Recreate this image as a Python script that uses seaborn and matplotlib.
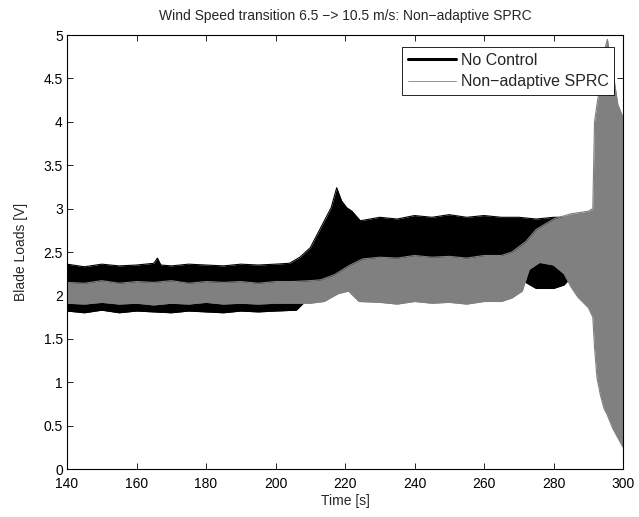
import numpy as np
import pandas as pd
import seaborn as sns
import matplotlib
matplotlib.use("Agg")
import matplotlib.pyplot as plt
from matplotlib.lines import Line2D

# envelope of the "No Control" signal
nc_time = [140, 145, 150, 155, 160, 165, 166, 167, 170, 175, 180, 185, 190, 195, 200,
           204, 207, 210, 213, 216, 217.6, 219, 220.5, 222, 224.4, 230, 235, 240, 245,
           250, 255, 260, 265, 270, 275, 280, 285, 290, 300]
nc_upper = [2.36, 2.33, 2.36, 2.34, 2.35, 2.37, 2.43, 2.35, 2.34, 2.36, 2.35, 2.34, 2.36, 2.35, 2.36,
            2.37, 2.44, 2.55, 2.78, 3.01, 3.24, 3.09, 3.01, 2.97, 2.86, 2.90, 2.88, 2.92, 2.90,
            2.93, 2.90, 2.92, 2.90, 2.90, 2.88, 2.90, 2.90, 2.90, 2.90]
nc_low_time = [140, 145, 150, 155, 160, 165, 170, 175, 180, 185, 190, 195, 200, 206, 209,
               215, 220, 225, 268, 272, 275, 280, 283, 286, 300]
nc_lower = [1.82, 1.80, 1.83, 1.80, 1.82, 1.81, 1.80, 1.82, 1.81, 1.80, 1.82, 1.81, 1.82, 1.83, 1.95,
            2.00, 2.05, 2.20, 2.20, 2.15, 2.08, 2.08, 2.12, 2.25, 2.30]

# envelope of the "Non-adaptive SPRC" signal
sp_time = [140, 145, 150, 155, 160, 165, 170, 175, 180, 185, 190, 195, 200, 205, 210,
           213, 217, 221, 225, 230, 235, 240, 245, 250, 255, 260, 265, 268, 272, 275,
           280, 285, 290, 291.3, 291.8, 292.5, 293.5, 294.5, 295.5, 297, 298.5, 300]
sp_upper = [2.15, 2.14, 2.17, 2.14, 2.16, 2.15, 2.17, 2.14, 2.16, 2.15, 2.16, 2.14, 2.16, 2.16, 2.17,
            2.18, 2.24, 2.34, 2.42, 2.44, 2.43, 2.46, 2.44, 2.45, 2.43, 2.46, 2.46, 2.50, 2.62, 2.76,
            2.88, 2.94, 2.97, 3.00, 4.00, 4.20, 4.45, 4.80, 4.95, 4.60, 4.20, 4.05]
sp_low_time = [140, 145, 150, 155, 160, 165, 170, 175, 180, 185, 190, 195, 200, 205, 210,
               214, 218, 221, 224, 230, 235, 240, 245, 250, 255, 260, 265, 268, 271, 273,
               276, 280, 283, 285, 287, 290, 291.3, 291.8, 292.5, 293.5, 294.5, 295.5, 297,
               298.5, 300]
sp_lower = [1.91, 1.90, 1.92, 1.90, 1.91, 1.89, 1.91, 1.90, 1.92, 1.90, 1.91, 1.90, 1.91, 1.91, 1.91,
            1.93, 2.02, 2.05, 1.93, 1.92, 1.90, 1.93, 1.91, 1.92, 1.90, 1.93, 1.93, 1.97, 2.05, 2.30,
            2.38, 2.35, 2.25, 2.10, 1.98, 1.86, 1.75, 1.40, 1.05, 0.85, 0.70, 0.62, 0.47,
            0.36, 0.25]

labels = ["No Control", "Non\u2212adaptive SPRC"]
colors = ["black", "#808080"]

sns.set_style("ticks")
plt.rcParams["font.family"] = ["Liberation Sans", "DejaVu Sans"]
plt.rcParams["font.size"] = 10

def envelope_frame(t_up, up, t_lo, lo, name):
    a = pd.DataFrame({"Time": t_up, "Load": up, "bound": "upper"})
    b = pd.DataFrame({"Time": t_lo, "Load": lo, "bound": "lower"})
    d = pd.concat([a, b], ignore_index=True)
    d["series"] = name
    return d

df = pd.concat([
    envelope_frame(nc_time, nc_upper, nc_low_time, nc_lower, labels[0]),
    envelope_frame(sp_time, sp_upper, sp_low_time, sp_lower, labels[1]),
], ignore_index=True)

fig = plt.figure(figsize=(6.39, 5.17), dpi=100)
ax = fig.add_axes([0.1049, 0.0928, 0.8701, 0.8395])

for name, col in zip(labels, colors):
    sub = df[df["series"] == name]
    up = sub[sub["bound"] == "upper"]
    lo = sub[sub["bound"] == "lower"]
    grid = np.union1d(up["Time"].values, lo["Time"].values)
    ax.fill_between(grid, np.interp(grid, lo["Time"], lo["Load"]),
                    np.interp(grid, up["Time"], up["Load"]),
                    color=col, lw=0, zorder=2)
    sns.lineplot(data=sub, x="Time", y="Load", units="bound", estimator=None,
                 color=col, lw=0.8, ax=ax, legend=False, zorder=2)

ax.set_xlim(140, 300)
ax.set_ylim(0, 5)
ax.set_xticks(np.arange(140, 301, 20))
ax.set_yticks(np.arange(0, 5.01, 0.5))
ax.set_yticklabels(["0", "0.5", "1", "1.5", "2", "2.5", "3", "3.5", "4", "4.5", "5"])
ax.tick_params(direction="in", length=4, width=0.6, top=True, right=True,
               labelsize=10, colors="black")
ax.tick_params(axis="x", pad=6)
ax.tick_params(axis="y", pad=3)
for s in ax.spines.values():
    s.set_visible(True)
    s.set_linewidth(0.8)
    s.set_color("black")

ax.set_xlabel("Time [s]", fontsize=10, labelpad=2)
ax.set_ylabel("Blade Loads [V]", fontsize=10, labelpad=11)
ax.set_title("Wind Speed transition 6.5 \u2212> 10.5 m/s: Non\u2212adaptive SPRC",
             fontsize=10, pad=10.5)

handles = [Line2D([], [], color="black", lw=2.2),
           Line2D([], [], color="#808080", lw=0.6)]
leg = ax.legend(handles, labels, loc="upper right", bbox_to_anchor=(0.984, 0.972),
                frameon=True, fancybox=False, framealpha=1, edgecolor="black",
                handlelength=3.0, handletextpad=0.3, borderpad=0.35,
                labelspacing=0.4, borderaxespad=0, fontsize=11.5)
leg.get_frame().set_linewidth(0.6)
leg.set_zorder(5)

fig.savefig("out.png", dpi=100)
